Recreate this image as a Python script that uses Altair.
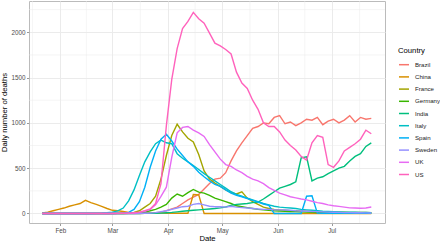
import altair as alt
import pandas as pd

countries = ["Brazil", "China", "France", "Germany", "India", "Italy", "Spain", "Sweden", "UK", "US"]
colors = ["#F8766D", "#D89000", "#A3A500", "#39B600", "#00BF7D", "#00BFC4", "#00B0F6", "#9590FF", "#E76BF3", "#FF62BC"]

# dates every 3 days from 2020-01-22 to 2020-07-23
dates = pd.date_range("2020-01-22", periods=62, freq="3D").strftime("%Y-%m-%d").tolist()

brazil = [0] * 18 + [0, 1, 3, 8, 15, 30, 50, 70, 110, 150,
                     180, 210, 270, 330, 380, 390, 450, 580, 690, 780,
                     860, 940, 960, 1000, 990, 1060, 1080, 990, 1010, 970,
                     1000, 1040, 1030, 1060, 980, 1020, 1040, 1000, 1030, 1080,
                     1010, 1060, 1040, 1050]
china = [5, 15, 30, 45, 60, 80, 95, 110, 145, 120,
         100, 78, 55, 35, 30, 22, 12, 8, 8, 6,
         5, 5, 4, 3, 3, 2, 2, 3, 210, 205, 0] + [0] * 31
france = [0] * 12 + [0, 0, 1, 2, 6, 12, 30, 70, 110, 190,
                     380, 640, 860, 985, 900, 830, 790, 650, 470, 380,
                     335, 300, 260, 230, 215, 240, 170, 130, 100, 70,
                     55, 45, 40, 35, 30, 30, 28, 25, 22, 20,
                     18, 15, 15, 14, 13, 12, 12, 12, 11, 10]
germany = [0] * 15 + [0, 1, 3, 8, 15, 30, 45, 70, 100, 170,
                      215, 190, 230, 265, 235, 225, 200, 170, 150, 130,
                      110, 85, 75, 65, 55, 45, 40, 35, 30, 28,
                      25, 22, 20, 18, 15, 12, 10, 9, 8, 7,
                      6, 6, 5, 5, 5, 5, 5]
india = [0] * 18 + [0, 1, 1, 2, 4, 8, 12, 18, 25, 30,
                    35, 40, 45, 50, 55, 62, 72, 90, 100, 105,
                    110, 120, 125, 160, 200, 240, 280, 300, 320, 350,
                    615, 625, 360, 390, 405, 440, 470, 500, 520, 580,
                    630, 660, 740, 780]
italy = [0] * 10 + [1, 3, 8, 15, 28, 60, 140, 260, 420, 570,
                    680, 770, 810, 780, 770, 660, 610, 570, 530, 485,
                    440, 400, 360, 320, 280, 240, 210, 190, 170, 150,
                    130, 110, 95, 80, 70, 65, 60, 55, 45, 40,
                    35, 30, 25, 22, 20, 18, 15, 14, 13, 12,
                    11, 10]
spain = [0] * 13 + [0, 1, 4, 12, 45, 130, 290, 510, 690, 820,
                    875, 800, 710, 640, 570, 520, 455, 405, 360, 320,
                    300, 260, 225, 200, 185, 165, 145, 125, 105, 90,
                    0, 0, 0, 0, 0, 0, 190, 195, 4, 3,
                    3, 3, 3, 3, 3, 3, 3, 2, 2]
sweden = [0] * 17 + [0, 1, 3, 5, 10, 20, 30, 45, 60, 75,
                     80, 100, 110, 95, 80, 75, 75, 70, 80, 70,
                     65, 60, 55, 50, 45, 45, 40, 40, 38, 35,
                     30, 28, 25, 22, 20, 18, 15, 14, 12, 10,
                     10, 8, 8, 7, 6]
uk = [0] * 15 + [1, 2, 5, 12, 25, 45, 95, 190, 290, 620,
                 890, 950, 960, 920, 890, 850, 760, 680, 600, 540,
                 520, 480, 450, 410, 380, 360, 330, 285, 255, 225,
                 205, 185, 172, 160, 150, 135, 120, 110, 95, 85,
                 78, 70, 62, 60, 57, 60, 72]
us = [0] * 14 + [1, 2, 4, 8, 15, 30, 50, 110, 330, 970,
                 1480, 1820, 2040, 2120, 2220, 2150, 2100, 1990, 1880, 1850,
                 1810, 1760, 1560, 1440, 1380, 1250, 1150, 1000, 960, 960,
                 900, 810, 750, 700, 630, 590, 780, 860, 840, 540,
                 510, 580, 690, 730, 770, 820, 920, 880]

series = [brazil, china, france, germany, india, italy, spain, sweden, uk, us]

rows = []
for c, vals in zip(countries, series):
    for d, v in zip(dates, vals):
        rows.append({"date": d, "country": c, "deaths": v})
df = pd.DataFrame(rows)

# axis breaks
x_major = [(2020, m) for m in [2, 3, 4, 5, 6, 7]]
x_minor = ["2020-01-16T12:00:00Z", "2020-02-15T12:00:00Z", "2020-03-16T12:00:00Z",
           "2020-04-16T00:00:00Z", "2020-05-16T12:00:00Z", "2020-06-16T00:00:00Z",
           "2020-07-16T12:00:00Z"]
y_major = [0, 500, 1000, 1500, 2000]
y_minor = [250, 750, 1250, 1750, 2250]

FONT = "Liberation Sans"

x_scale = alt.Scale(
    type="utc",
    domain=[alt.DateTime(year=2020, month=1, date=14, hours=14, utc=True),
            alt.DateTime(year=2020, month=7, date=30, hours=15, utc=True)],
    nice=False,
)
y_scale = alt.Scale(domain=[-105, 2345], nice=False, zero=False)

x_axis = alt.Axis(
    title="Date",
    values=[alt.DateTime(year=y, month=m, date=1, utc=True) for y, m in x_major],
    format="%b",
    grid=True,
)
y_axis = alt.Axis(title="Daily number of deaths", values=y_major, format="d", grid=True)

xminor = alt.Chart(pd.DataFrame({"date": x_minor})).mark_rule(
    color="#EBEBEB", strokeWidth=0.5
).encode(x=alt.X("date:T", scale=x_scale, axis=x_axis))

yminor = alt.Chart(pd.DataFrame({"deaths": y_minor})).mark_rule(
    color="#EBEBEB", strokeWidth=0.5
).encode(y=alt.Y("deaths:Q", scale=y_scale, axis=y_axis))

lines = alt.Chart(df).mark_line(strokeWidth=1.4, clip=True).encode(
    x=alt.X("date:T", scale=x_scale, axis=x_axis),
    y=alt.Y("deaths:Q", scale=y_scale, axis=y_axis),
    color=alt.Color(
        "country:N",
        scale=alt.Scale(domain=countries, range=colors),
        legend=alt.Legend(
            title="Country",
            orient="none",
            legendX=369,
            legendY=46,
            symbolType="stroke",
            symbolSize=100,
            symbolStrokeWidth=1.5,
            rowPadding=2.2,
            labelOffset=5,
            titlePadding=4,
            padding=0,
            titleFont=FONT,
            titleFontSize=7.7,
            titleFontWeight=400,
            titleColor="#000000",
            labelFont=FONT,
            labelFontSize=6.1,
            labelColor="#1A1A1A",
        ),
    ),
)

chart = (
    alt.layer(xminor, yminor, lines)
    .properties(
        width=356,
        height=222,
        padding={"left": 29, "top": 1, "right": 55, "bottom": 20},
        autosize=alt.AutoSizeParams(type="none"),
        background="white",
    )
    .configure_view(stroke="#BBBBBB", strokeWidth=1)
    .configure_axis(
        labelFont=FONT,
        labelFontSize=6.3,
        labelColor="#4D4D4D",
        titleFont=FONT,
        titleFontSize=7.7,
        titleFontWeight=400,
        titleColor="#000000",
        domain=False,
        tickColor="#999999",
        tickSize=2.5,
        tickWidth=1,
        labelPadding=1.5,
        gridColor="#EBEBEB",
        gridWidth=1,
    )
    .configure_axisX(titlePadding=1.5)
    .configure_axisY(titlePadding=2)
    .configure_legend(titleFontWeight=400)
)

chart.save("out.html", embed_options={"renderer": "svg", "actions": False})
